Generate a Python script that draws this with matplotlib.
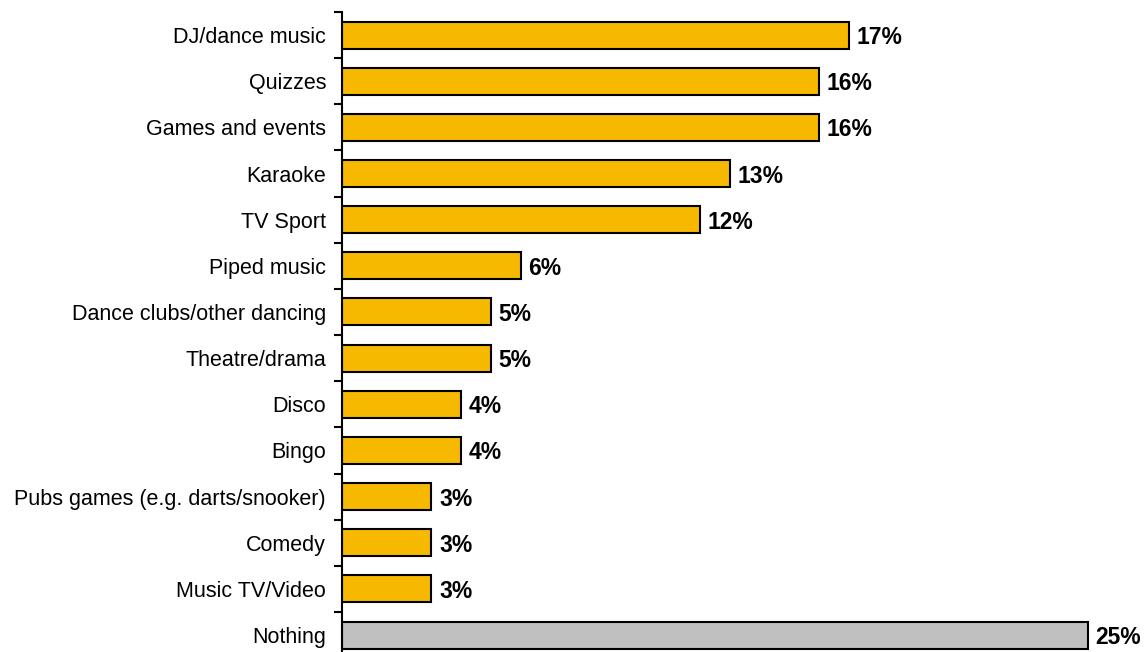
import numpy as np
import matplotlib.pyplot as plt

plt.rcParams['font.family'] = ['Liberation Sans', 'DejaVu Sans']

categories = ['DJ/dance music', 'Quizzes', 'Games and events', 'Karaoke', 'TV Sport',
              'Piped music', 'Dance clubs/other dancing', 'Theatre/drama', 'Disco', 'Bingo',
              'Pubs games (e.g. darts/snooker)', 'Comedy', 'Music TV/Video', 'Nothing']
values = [17, 16, 16, 13, 12, 6, 5, 5, 4, 4, 3, 3, 3, 25]
bar_colors = ['#F7B900'] * 13 + ['#C0C0C0']

fig = plt.figure(figsize=(11.44, 6.52), dpi=100)
ax = fig.add_axes([342 / 1144, 0.0, 1 - 342 / 1144 - 0.01, 1 - 12 / 652])

pos = np.arange(len(categories))
ax.barh(pos, values, height=0.585, color=bar_colors, edgecolor='black', linewidth=1.5)

for p, v in zip(pos, values):
    ax.text(v + 0.25, p, f'{v}%', va='center_baseline', ha='left', fontsize=16.5, fontweight='bold')

ax.set_xlim(0, 26.5)
ax.set_ylim(-0.5 + 640 / 46.15, -0.5)

# category labels sit between the tick marks
ax.set_yticks(pos)
ax.set_yticklabels(categories, fontsize=15.5)
ax.tick_params(axis='y', which='major', length=0, pad=11.5)
ax.set_yticks(np.arange(-0.5, len(categories) - 0.5), minor=True)
ax.tick_params(axis='y', which='minor', length=6, width=1.5, direction='out')

ax.set_xticks([])
for s in ['top', 'right', 'bottom']:
    ax.spines[s].set_visible(False)
ax.spines['left'].set_linewidth(1.5)

fig.savefig('out.png', dpi=100)
